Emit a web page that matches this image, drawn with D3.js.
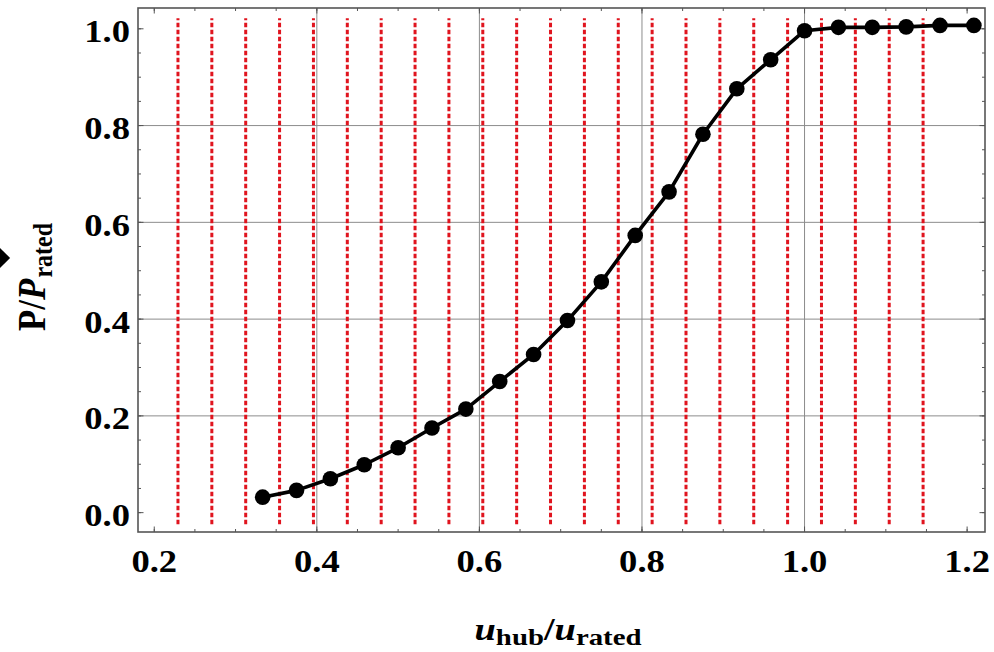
<!DOCTYPE html>
<html>
<head>
<meta charset="utf-8">
<script src="https://cdn.jsdelivr.net/npm/d3@7"></script>
<style>
  html, body { margin: 0; padding: 0; background: #fff; }
  svg { display: block; }
  text { font-family: "Liberation Serif", "Times New Roman", serif; font-weight: bold; fill: #000; }
</style>
</head>
<body>
<svg id="chart" width="994" height="652"></svg>
<script>
// Normalised wind speed (u_hub / u_rated) at each sample, in 1/24 steps
const speedSteps = [8, 9, 10, 11, 12, 13, 14, 15, 16, 17, 18, 19, 20, 21, 22, 23, 24, 25, 26, 27, 28, 29];
const speedStepSize = 1 / 24;
// Normalised power P / P_rated at each sample
const powerValues = [0.032, 0.046, 0.070, 0.099, 0.134, 0.175, 0.214, 0.271, 0.327, 0.397, 0.477,
                     0.573, 0.663, 0.782, 0.876, 0.936, 0.996, 1.003, 1.003, 1.004, 1.007, 1.007];
// Bin edges (red dashed lines), half a step either side of each sample
const binEdgeSteps = [5.5, 6.5, 7.5, 8.5, 9.5, 10.5, 11.5, 12.5, 13.5, 14.5, 15.5, 16.5,
                      17.5, 18.5, 19.5, 20.5, 21.5, 22.5, 23.5, 24.5, 25.5, 26.5, 27.5];
// Axis ticks and grid
const xTicks = [0.2, 0.4, 0.6, 0.8, 1.0, 1.2];
const yTicks = [0.0, 0.2, 0.4, 0.6, 0.8, 1.0];
const xGrid = [0.4, 0.6, 0.8, 1.0];
const yGrid = [0.2, 0.4, 0.6, 0.8];
const xMinor = d3.range(0.2, 1.2001, 0.05);
const yMinor = d3.range(0.0, 1.0001, 0.05);

const points = speedSteps.map((k, i) => ({ x: k * speedStepSize, y: powerValues[i] }));
const edges = binEdgeSteps.map(k => k * speedStepSize);

const svg = d3.select("#chart");
const margin = { left: 138, top: 8, right: 9, bottom: 120 };
const W = 994, H = 652;
const iw = W - margin.left - margin.right;
const ih = H - margin.top - margin.bottom;

const x = d3.scaleLinear().domain([0.18, 1.222]).range([margin.left, margin.left + iw]);
const y = d3.scaleLinear().domain([-0.04, 1.043]).range([margin.top + ih, margin.top]);

// Grid lines
const grid = svg.append("g").attr("stroke", "#8c8c8c").attr("stroke-width", 1);
grid.selectAll("line.gx").data(xGrid).join("line")
  .attr("x1", d => x(d)).attr("x2", d => x(d))
  .attr("y1", y.range()[0]).attr("y2", y.range()[1]);
grid.selectAll("line.gy").data(yGrid).join("line")
  .attr("y1", d => y(d)).attr("y2", d => y(d))
  .attr("x1", x.range()[0]).attr("x2", x.range()[1]);

// Red dashed bin edges
svg.append("g").selectAll("line").data(edges).join("line")
  .attr("x1", d => x(d)).attr("x2", d => x(d))
  .attr("y1", y(-0.024)).attr("y2", y(1.022))
  .attr("stroke", "#e0141e").attr("stroke-width", 3)
  .attr("stroke-dasharray", "4.5,2.5");

// Frame ticks on all four sides, pointing inward
function drawTicks(g, vals, len) {
  vals.forEach(v => {
    g.append("line").attr("x1", x(v)).attr("x2", x(v)).attr("y1", y.range()[0]).attr("y2", y.range()[0] - len);
    g.append("line").attr("x1", x(v)).attr("x2", x(v)).attr("y1", y.range()[1]).attr("y2", y.range()[1] + len);
  });
}
function drawYTicks(g, vals, len) {
  vals.forEach(v => {
    g.append("line").attr("y1", y(v)).attr("y2", y(v)).attr("x1", x.range()[0]).attr("x2", x.range()[0] + len);
    g.append("line").attr("y1", y(v)).attr("y2", y(v)).attr("x1", x.range()[1]).attr("x2", x.range()[1] - len);
  });
}
const tickG = svg.append("g").attr("stroke", "#555").attr("stroke-width", 1);
drawTicks(tickG, xMinor, 3);
drawTicks(tickG, xTicks, 5.5);
drawYTicks(tickG, yMinor, 3);
drawYTicks(tickG, yTicks, 5.5);

// Frame
svg.append("rect")
  .attr("x", x.range()[0]).attr("y", y.range()[1])
  .attr("width", iw).attr("height", ih)
  .attr("fill", "none").attr("stroke", "#555").attr("stroke-width", 1.6);

// Power curve
const line = d3.line().x(d => x(d.x)).y(d => y(d.y));
svg.append("path").datum(points)
  .attr("d", line).attr("fill", "none")
  .attr("stroke", "#000").attr("stroke-width", 3.6).attr("stroke-linejoin", "round");
svg.append("g").selectAll("circle").data(points).join("circle")
  .attr("cx", d => x(d.x)).attr("cy", d => y(d.y)).attr("r", 7.8).attr("fill", "#000");

// Tick labels (wide bold serif)
const fmt = d3.format(".1f");
const stretch = 1.18;
svg.append("g").selectAll("text").data(xTicks).join("text")
  .attr("transform", d => `translate(${x(d)},${y.range()[0] + 40}) scale(${stretch},1)`)
  .attr("text-anchor", "middle").attr("font-size", 31)
  .text(d => fmt(d));
svg.append("g").selectAll("text").data(yTicks).join("text")
  .attr("transform", d => `translate(${x.range()[0] - 8},${y(d) + 13.5}) scale(${stretch},1)`)
  .attr("text-anchor", "end").attr("font-size", 31)
  .text(d => fmt(d));

// Y axis title: P / P_rated
const yt = svg.append("text")
  .attr("transform", `translate(45,${margin.top + ih / 2 + 7}) scale(1.12,1) rotate(-90)`)
  .attr("text-anchor", "middle").attr("font-size", 35);
yt.append("tspan").text("P/");
yt.append("tspan").attr("font-style", "italic").text("P");
yt.append("tspan").attr("font-size", 24).attr("dy", 6).attr("dx", 1).text("rated");

// X axis title: u_hub / u_rated
const xt = svg.append("text")
  .attr("transform", `translate(558,640) scale(1.2,1)`)
  .attr("text-anchor", "middle").attr("font-size", 32);
xt.append("tspan").attr("font-style", "italic").text("u");
xt.append("tspan").attr("font-size", 24).attr("dy", 5).text("hub");
xt.append("tspan").attr("dy", -5).text("/");
xt.append("tspan").attr("font-style", "italic").text("u");
xt.append("tspan").attr("font-size", 24).attr("dy", 5).text("rated");

// Small black marker at the left edge
svg.append("path")
  .attr("d", d3.symbol(d3.symbolDiamond2, 260)())
  .attr("transform", `translate(0,${margin.top + ih / 2 - 12})`)
  .attr("fill", "#000");
</script>
</body>
</html>
